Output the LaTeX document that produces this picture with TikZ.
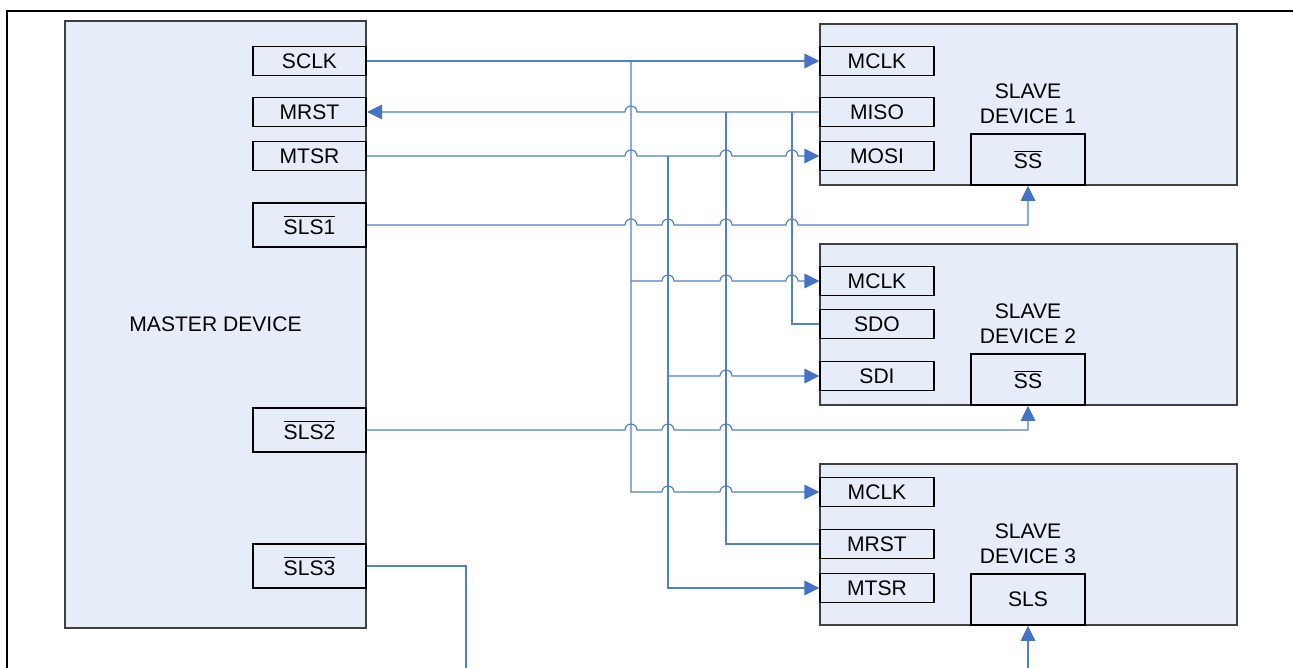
\documentclass[tikz,border=0pt]{standalone}
\usepackage{fontspec}
\setmainfont{Liberation Sans}
\usepackage{tikz}
\usetikzlibrary{arrows.meta,positioning}
\definecolor{devfill}{RGB}{230,237,248}
\definecolor{devline}{RGB}{64,64,64}
\definecolor{wireblue}{RGB}{79,129,199}
\definecolor{tipblue}{RGB}{68,114,196}
% horizontal wire jumping over a vertical one at x=#1, y=#2
\newcommand{\hop}[2]{-- ({#1-6},#2) arc[start angle=180, end angle=360, radius=6]}
\newcommand{\ovl}[1]{$\overline{\mbox{#1}}$}

\begin{document}
\begin{tikzpicture}[x=0.02cm, y=-0.02cm, >={Triangle[length=0.3cm, width=0.29cm, color=tipblue]},
    font=\fontsize{12}{14.2}\selectfont]
    \tikzstyle{device} = [draw=devline, fill=devfill, line width=0.9pt, inner sep=0pt]
    \tikzstyle{pin box} = [draw=black, fill=devfill, line width=0.9pt, inner sep=0pt, minimum width=2.27cm, minimum height=0.58cm]
    \tikzstyle{sel box} = [pin box, minimum height=0.87cm]
    \tikzstyle{ss box} = [pin box, minimum width=2.28cm, minimum height=1.02cm]
    \tikzstyle{wire} = [draw=wireblue, line width=0.65pt]
    \tikzstyle{frame} = [draw=black, line width=1.6pt]
    \useasboundingbox (0,0) rectangle (1293,668);
    \draw[frame] (7,668) -- (7,11) -- (1293,11);

    % master
    \node[device, minimum width=6.02cm, minimum height=12.14cm] (master) at (215.5,324.5) {MASTER DEVICE};
    \node[pin box] (m-sclk) at (309.5,61) {SCLK};
    \node[pin box] (m-mrst) at (309.5,112) {MRST};
    \node[pin box] (m-mtsr) at (309.5,156) {MTSR};
    \node[sel box] (m-sls1) at (309.5,225) {\ovl{SLS1}};
    \node[sel box] (m-sls2) at (309.5,430) {\ovl{SLS2}};
    \node[sel box] (m-sls3) at (309.5,566) {\ovl{SLS3}};

    % slaves
    \node[device, minimum width=8.34cm, minimum height=3.22cm] (slave1) at (1028.5,104.5) {};
    \node[device, minimum width=8.34cm, minimum height=3.22cm] (slave2) at (1028.5,324.5) {};
    \node[device, minimum width=8.34cm, minimum height=3.22cm] (slave3) at (1028.5,544.5) {};
    \node[align=center] (slave1-name) at (1028,104) {SLAVE\\DEVICE 1};
    \node[align=center] (slave2-name) at (1028,324) {SLAVE\\DEVICE 2};
    \node[align=center] (slave3-name) at (1028,544) {SLAVE\\DEVICE 3};
    \node[pin box] (s1-mclk) at (877,61) {MCLK};
    \node[pin box] (s1-miso) at (877,112) {MISO};
    \node[pin box] (s1-mosi) at (877,156) {MOSI};
    \node[ss box] (s1-ss) at (1028,159.5) {\ovl{SS}};
    \node[pin box] (s2-mclk) at (877,281) {MCLK};
    \node[pin box] (s2-sdo) at (877,324) {SDO};
    \node[pin box] (s2-sdi) at (877,376) {SDI};
    \node[ss box] (s2-ss) at (1028,379.5) {\ovl{SS}};
    \node[pin box] (s3-mclk) at (877,492) {MCLK};
    \node[pin box] (s3-mrst) at (877,544) {MRST};
    \node[pin box] (s3-mtsr) at (877,588) {MTSR};
    \node[ss box] (s3-ss) at (1028,599.5) {SLS};

    % bus columns and loose ends
    \coordinate (bus-clk) at (631,0);
    \coordinate (bus-mosi) at (668,0);
    \coordinate (bus-miso) at (726,0);
    \coordinate (bus-sdo) at (792,0);
    \coordinate (sls3-out) at (466,668);
    \coordinate (ss3-in) at (1028,668);

    % wires from the master
    \draw[wire, ->] (m-sclk.east) -- (s1-mclk.west);
    \draw[wire, <-] (m-mrst.east) \hop{631}{112} -- (s1-miso.west);
    \draw[wire, ->] (m-mtsr.east) \hop{631}{156} \hop{726}{156} \hop{792}{156} -- (s1-mosi.west);
    \draw[wire, ->] (m-sls1.east) \hop{631}{225} \hop{668}{225} \hop{726}{225} \hop{792}{225} -| (s1-ss.south);
    \draw[wire, ->] (m-sls2.east) \hop{631}{430} \hop{668}{430} \hop{726}{430} -| (s2-ss.south);
    \draw[wire] (m-sls3.east) -| (sls3-out);
    \draw[wire, ->] (ss3-in) -- (s3-ss.south);

    % clock bus
    \draw[wire, ->] (bus-clk |- m-sclk.east) -- (bus-clk |- s3-mclk.west) \hop{668}{492} \hop{726}{492} -- (s3-mclk.west);
    \draw[wire, ->] (bus-clk |- s2-mclk.west) \hop{668}{281} \hop{726}{281} \hop{792}{281} -- (s2-mclk.west);
    % data out bus
    \draw[wire, ->] (bus-mosi |- m-mtsr.east) |- (s3-mtsr.west);
    \draw[wire, ->] (bus-mosi |- s2-sdi.west) \hop{726}{376} -- (s2-sdi.west);
    % data in bus
    \draw[wire] (bus-miso |- s1-miso.west) |- (s3-mrst.west);
    \draw[wire] (bus-sdo |- s1-miso.west) |- (s2-sdo.west);
\end{tikzpicture}
\end{document}
